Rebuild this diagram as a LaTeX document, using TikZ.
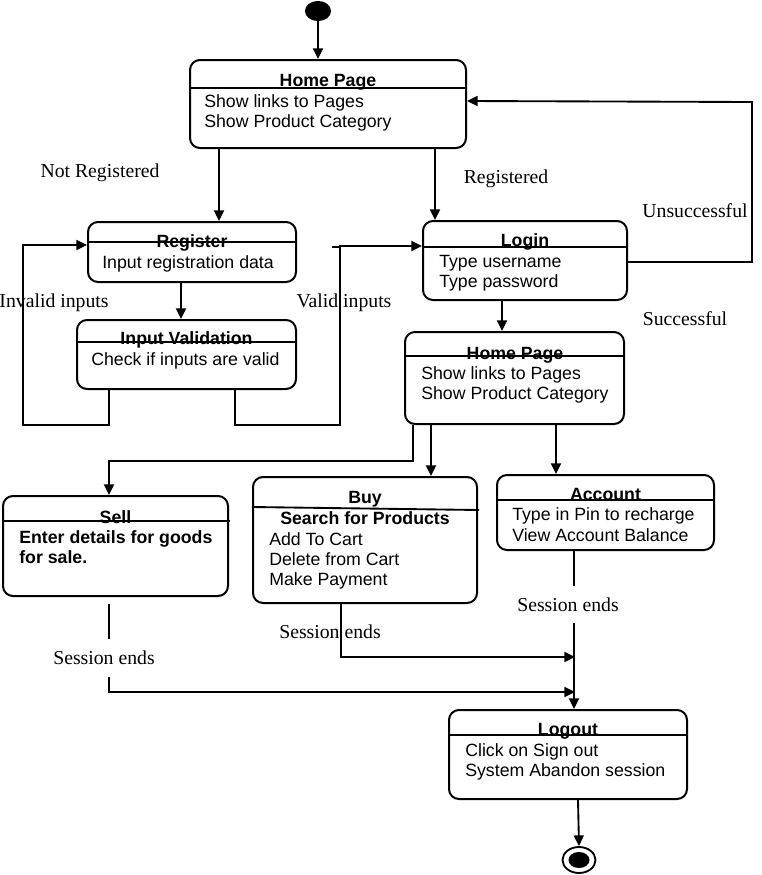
\documentclass[tikz,border=0pt]{standalone}
\usepackage{fontspec}
\setmainfont{Liberation Serif}
\newfontfamily\arialf{Liberation Sans}
\usetikzlibrary{arrows.meta,calc,shapes.geometric}

\tikzset{
  sbox/.style={draw, line width=1.5pt, rounded corners=7.5pt, inner sep=0pt},
  divider/.style={line width=1.4pt},
  conn/.style={line width=1.4pt},
  arr/.style={line width=1.4pt, -{Triangle[length=8pt,width=7.5pt]}},
  ttl/.style={anchor=base, inner sep=0pt, font=\arialf\bfseries\fontsize{13.3}{15}\selectfont},
  txt/.style={anchor=base west, inner sep=0pt, font=\arialf\fontsize{13.3}{15}\selectfont},
  btxt/.style={anchor=base west, inner sep=0pt, font=\arialf\bfseries\fontsize{13.3}{15}\selectfont},
  lbl/.style={anchor=base, inner sep=0pt, font=\fontsize{14.8}{16}\selectfont},
}

\begin{document}
\begin{tikzpicture}[x=0.75pt, y=-0.75pt]
  \fill[white] (0,0) rectangle (761,875);
  \useasboundingbox (0,0) rectangle (761,875);

  % initial state
  \node[ellipse, fill=black, draw, line width=0.8pt, inner sep=0pt,
        minimum width=25*0.75pt, minimum height=19*0.75pt] (start) at (318,11) {};

  % state boxes
  \node[sbox, minimum width=276*0.75pt, minimum height=88*0.75pt] (hp1) at (328,104) {};
  \node[sbox, minimum width=208*0.75pt, minimum height=60*0.75pt] (rg) at (192,252) {};
  \node[sbox, minimum width=219*0.75pt, minimum height=69*0.75pt] (iv) at (186.5,354.5) {};
  \node[sbox, minimum width=204*0.75pt, minimum height=79*0.75pt] (lg) at (525,260.5) {};
  \node[sbox, minimum width=219*0.75pt, minimum height=92*0.75pt] (hp2) at (514.5,378) {};
  \node[sbox, minimum width=225*0.75pt, minimum height=100*0.75pt] (sell) at (115.5,546) {};
  \node[sbox, minimum width=224*0.75pt, minimum height=126*0.75pt] (buy) at (365,540) {};
  \node[sbox, minimum width=217*0.75pt, minimum height=75*0.75pt] (acc) at (605.5,512.5) {};
  \node[sbox, minimum width=238*0.75pt, minimum height=89*0.75pt] (lo) at (568,754.5) {};

  % final state
  \node[ellipse, draw, line width=1.4pt, inner sep=0pt,
        minimum width=33*0.75pt, minimum height=26*0.75pt] (endo) at (579,860) {};
  \node[ellipse, fill=black, inner sep=0pt,
        minimum width=21*0.75pt, minimum height=16*0.75pt] (endi) at (579,860) {};

  % compartment dividers
  \draw[divider] ($(hp1.north west)+(0,29)$) -- ++(278,0);
  \draw[divider] ($(rg.north west)+(0,21)$) -- ++(208,0);
  \draw[divider] ($(iv.north west)+(0,23)$) -- ++(219,0);
  \draw[divider] ($(lg.north west)+(0,27)$) -- ++(204,0);
  \draw[divider] ($(hp2.north west)+(0,25)$) -- ++(219,0);
  \draw[divider] ($(sell.north west)+(0,26)$) -- ++(228,0);
  \draw[divider] ($(buy.north west)+(0,31)$) -- ++(227,3);
  \draw[divider] ($(acc.north west)+(0,26)$) -- ++(217,0);
  \draw[divider] ($(lo.north west)+(0,26)$) -- ++(238,0);

  % state texts
  \node[ttl] (hp1t) at (328,86) {Home Page};
  \node[txt] (hp1a) at (204,107) {Show links to Pages};
  \node[txt] (hp1b) at (204,127) {Show Product Category};

  \node[ttl] (rgt) at (192,247) {Register};
  \node[txt] (rga) at (102,268) {Input registration data};

  \node[ttl] (ivt) at (186.5,344) {Input Validation};
  \node[txt] (iva) at (91,365) {Check if inputs are valid};

  \node[ttl] (lgt) at (525,246) {Login};
  \node[txt] (lga) at (439,267) {Type username};
  \node[txt] (lgb) at (439,287) {Type password};

  \node[ttl] (hp2t) at (515,359) {Home Page};
  \node[txt] (hp2a) at (421,379) {Show links to Pages};
  \node[txt] (hp2b) at (421,399) {Show Product Category};

  \node[ttl] (sellt) at (115.5,523) {Sell};
  \node[btxt] (sella) at (19,543) {Enter details for goods};
  \node[btxt] (sellb) at (19,563) {for sale.};

  \node[ttl] (buyt) at (365,503) {Buy};
  \node[ttl] (buys) at (365,524) {Search for Products};
  \node[txt] (buya) at (269,545) {Add To Cart};
  \node[txt] (buyb) at (269,565) {Delete from Cart};
  \node[txt] (buyc) at (269,585) {Make Payment};

  \node[ttl] (acct) at (605.5,500) {Account};
  \node[txt] (acca) at (512,520) {Type in Pin to recharge};
  \node[txt] (accb) at (512,541) {View Account Balance};

  \node[ttl] (lot) at (568,735) {Logout};
  \node[txt] (loa) at (465,756) {Click on Sign out};
  \node[txt] (lob) at (465,776) {System Abandon session};

  % transition labels
  \node[lbl] (l1) at (100,177) {Not Registered};
  \node[lbl] (l2) at (506,183) {Registered};
  \node[lbl] (l3) at (695,217) {Unsuccessful};
  \node[lbl] (l4) at (685,325) {Successful};
  \node[lbl] (l5) at (54,307) {Invalid inputs};
  \node[lbl] (l6) at (344,307) {Valid inputs};
  \node[lbl] (l7) at (104,664) {Session ends};
  \node[lbl] (l8) at (330,638) {Session ends};
  \node[lbl] (l9) at (568,611) {Session ends};

  % merge points on the path to Logout
  \coordinate (m1) at (575,657);
  \coordinate (m2) at (575,692);

  % transitions
  \draw[arr] (start.south) -- (start.south |- hp1.north);
  \draw[arr] ($(hp1.south west)+(30,0)$) -- ($(rg.north west)+(132,0)$);
  \draw[arr] ($(hp1.south west)+(246,0)$) -- ($(lg.north west)+(13,0)$);
  \draw[arr] ($(rg.south west)+(94,0)$) -- ($(iv.north west)+(105,0)$);
  \draw[arr] ($(iv.south west)+(33,0)$) |- (23,425) |- ($(rg.north west)+(0,24)$);
  \draw[arr] ($(iv.south west)+(159,0)$) |- (340,425) |- ($(lg.north west)+(0,26)$);
  \draw[conn] (332,247) -- (340,247);
  \draw[arr] ($(lg.north east)+(0,42)$) -| (752,102) -- ($(hp1.north east)+(0,42)$);
  \draw[arr] ($(lg.south west)+(80,0)$) -- ($(hp2.north west)+(98,0)$);
  \draw[arr] ($(hp2.south west)+(9,0)$) -- ++(0,36) -| ($(sell.north west)+(107,0)$);
  \draw[arr] ($(hp2.south west)+(27,0)$) -- ($(buy.north west)+(179,0)$);
  \draw[arr] ($(hp2.south west)+(152,0)$) -- ($(acc.north west)+(60,0)$);

  \draw[conn] ($(sell.south west)+(107,7)$) -- ++(0,35);
  \draw[arr] ($(sell.south west)+(107,80)$) |- (m2);
  \draw[arr] ($(buy.south west)+(89,0)$) |- (m1);
  \draw[conn] ($(acc.south west)+(78,0)$) -- ++(0,35);
  \draw[arr] ($(acc.south west)+(78,72)$) -- ($(lo.north west)+(126,0)$);
  \draw[arr] ($(lo.south west)+(130,0)$) -- (endo.north);
\end{tikzpicture}
\end{document}
